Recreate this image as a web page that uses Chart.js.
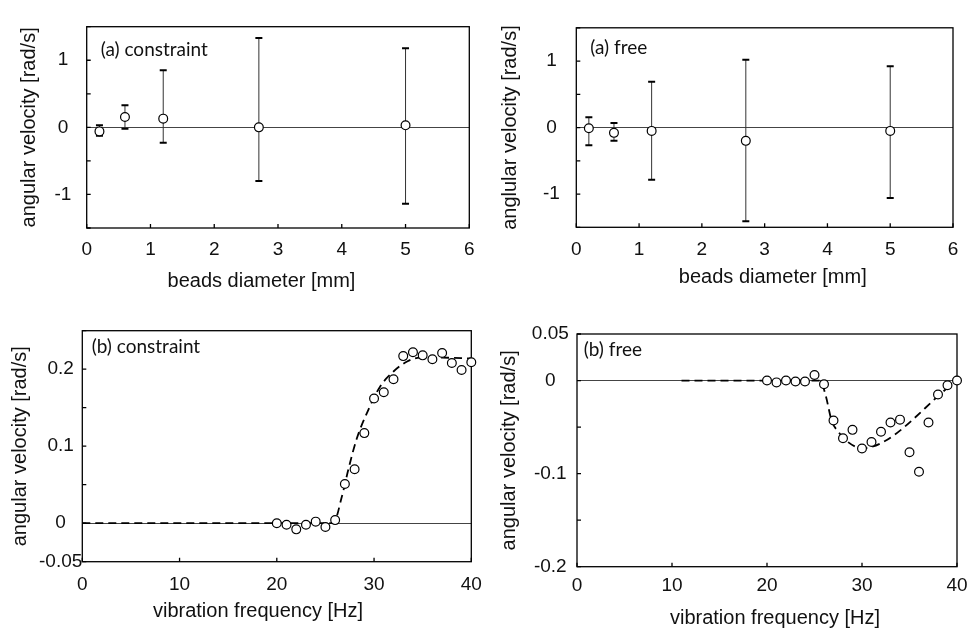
<!DOCTYPE html>
<html>
<head>
<meta charset="utf-8">
<script src="https://cdn.jsdelivr.net/npm/chart.js@4.4.1/dist/chart.umd.min.js"></script>
<style>
  body { margin: 0; background: #fff; }
  #wrap { position: relative; width: 974px; height: 633px; }
  canvas { position: absolute; }
</style>
</head>
<body>
<div id="wrap">
  <canvas id="c1" width="487" height="305" style="left:0;top:0"></canvas>
  <canvas id="c2" width="487" height="305" style="left:487px;top:0"></canvas>
  <canvas id="c3" width="487" height="323" style="left:0;top:310px"></canvas>
  <canvas id="c4" width="487" height="323" style="left:487px;top:310px"></canvas>
</div>
<script>
// (a) beads diameter sweep, mean with min/max bars
let beadSize = [0.2, 0.6, 1.2, 2.7, 5];
let conMean = [-0.06, 0.155, 0.13, 0.0, 0.03];
let conHigh = [0.03, 0.33, 0.85, 1.33, 1.18];
let conLow = [-0.125, -0.02, -0.23, -0.8, -1.14];
let freeMean = [-0.01, -0.08, -0.05, -0.2, -0.05];
let freeHigh = [0.155, 0.07, 0.69, 1.02, 0.92];
let freeLow = [-0.265, -0.2, -0.785, -1.41, -1.06];

// (b) vibration frequency sweep
let freq = [20, 21, 22, 23, 24, 25, 26, 27, 28, 29, 30, 31, 32, 33, 34, 35, 36, 37, 38, 39, 40];
let conVel = [0, -0.002, -0.008, -0.002, 0.002, -0.005, 0.004, 0.051, 0.07, 0.117, 0.162,
  0.17, 0.187, 0.217, 0.222, 0.218, 0.213, 0.221, 0.208, 0.199, 0.209];
let freeVel = [0, -0.002, 0, -0.001, -0.001, 0.006, -0.004, -0.043, -0.062, -0.053, -0.073,
  -0.066, -0.055, -0.045, -0.042, -0.077, -0.098, -0.045, -0.015, -0.005, 0];

// dashed guide curves
let conFitX = [0, 25.8, 26.7, 27.4, 28.2, 29.3, 30.6, 32, 33.4, 34.7, 37, 40];
let conFitY = [0, 0, 0.035, 0.072, 0.109, 0.144, 0.177, 0.197, 0.21, 0.215, 0.215, 0.214];
let freeFitX = [11, 25.6, 26.2, 26.8, 27.5, 28.4, 29.3, 29.9, 40];
let freeFitY = [0, 0, -0.017, -0.043, -0.055, -0.065, -0.071, -0.073, 0];

// tick labels that are printed
let yLabelsA = [-1, 0, 1];
let yLabelsCon = [-0.05, 0, 0.1, 0.2];
let yLabelsFree = [-0.2, -0.1, 0, 0.05];

const FONT = "'Liberation Sans', Arial, sans-serif";
Chart.defaults.color = "#111";
Chart.defaults.font.family = FONT;

function pts(xs, ys) {
  return xs.map((x, i) => ({ x: x, y: ys[i] }));
}

function markers(xs, ys, low, high) {
  return {
    data: pts(xs, ys),
    errLow: low,
    errHigh: high,
    pointRadius: 4.4,
    pointBackgroundColor: "#fff",
    pointBorderColor: "#000",
    pointBorderWidth: 1.2,
    clip: false,
  };
}

function guide(xs, ys) {
  return {
    data: pts(xs, ys),
    showLine: true,
    pointRadius: 0,
    borderColor: "#000",
    borderWidth: 1.8,
    borderDash: [8, 5],
    cubicInterpolationMode: "monotone",
    order: 1,
  };
}

// frame, inward ticks, error bars, panel tag and x title
const panelDeco = {
  id: "panelDeco",
  beforeDatasetsDraw(chart, args, opts) {
    const { ctx, chartArea: a, scales: { x, y } } = chart;
    ctx.save();
    ctx.strokeStyle = "#000";
    ctx.lineWidth = 1.3;
    ctx.strokeRect(a.left, a.top, a.right - a.left, a.bottom - a.top);
    ctx.beginPath();
    x.ticks.forEach((t) => {
      let px = x.getPixelForValue(t.value);
      ctx.moveTo(px, a.bottom);
      ctx.lineTo(px, a.bottom - 4);
    });
    y.ticks.forEach((t) => {
      let py = y.getPixelForValue(t.value);
      ctx.moveTo(a.left, py);
      ctx.lineTo(a.left + 4, py);
    });
    ctx.stroke();

    chart.data.datasets.forEach((ds) => {
      if (!ds.errLow) return;
      ds.data.forEach((p, i) => {
        let px = x.getPixelForValue(p.x);
        let top = y.getPixelForValue(ds.errHigh[i]);
        let bot = y.getPixelForValue(ds.errLow[i]);
        ctx.strokeStyle = "#333";
        ctx.lineWidth = 1;
        ctx.beginPath();
        ctx.moveTo(px, top);
        ctx.lineTo(px, bot);
        ctx.stroke();
        ctx.strokeStyle = "#000";
        ctx.lineWidth = 2;
        ctx.beginPath();
        ctx.moveTo(px - 3.5, top);
        ctx.lineTo(px + 3.5, top);
        ctx.moveTo(px - 3.5, bot);
        ctx.lineTo(px + 3.5, bot);
        ctx.stroke();
      });
    });
    ctx.restore();
  },
  afterDraw(chart, args, opts) {
    const { ctx, chartArea: a } = chart;
    ctx.save();
    ctx.fillStyle = "#111";
    ctx.textBaseline = "middle";
    ctx.textAlign = "left";
    ctx.font = "19px Lato, 'Open Sans', sans-serif";
    ctx.fillText(opts.tag, a.left + opts.tagDx, a.top + opts.tagDy);
    ctx.textAlign = "center";
    ctx.font = "20px " + FONT;
    ctx.fillText(opts.xTitle, opts.xTitleX, opts.xTitleY);
    ctx.restore();
  },
};

function panel(id, p) {
  return new Chart(document.getElementById(id), {
    type: "scatter",
    data: { datasets: p.datasets },
    plugins: [panelDeco],
    options: {
      responsive: false,
      animation: false,
      layout: { padding: { left: 0, right: p.padRight, top: p.padTop, bottom: 0 } },
      plugins: {
        legend: { display: false },
        tooltip: { enabled: false },
        panelDeco: {
          tag: p.tag, tagDx: p.tagDx, tagDy: p.tagDy,
          xTitle: p.xTitle, xTitleX: p.xTitleX, xTitleY: p.xTitleY,
        },
      },
      scales: {
        x: {
          min: p.xMin, max: p.xMax,
          grid: { display: false },
          border: { display: false },
          ticks: { stepSize: p.xStep, autoSkip: false, maxRotation: 0, padding: p.xTickPad, font: { size: 19 } },
          afterFit: (s) => { s.height = p.xHeight; },
        },
        y: {
          min: p.yMin, max: p.yMax,
          border: { display: false },
          grid: {
            drawTicks: false,
            color: (c) => (c.tick && Math.abs(c.tick.value) < 1e-9 ? "#444" : "rgba(0,0,0,0)"),
            lineWidth: 1,
          },
          ticks: {
            stepSize: p.yStep,
            autoSkip: false,
            crossAlign: "center",
            padding: p.yTickPad,
            font: { size: 19 },
            callback: (v) => {
              let hit = p.yShown.find((s) => Math.abs(s - v) < 1e-9);
              return hit === undefined ? "" : String(hit);
            },
          },
          title: {
            display: true,
            text: p.yTitle,
            font: { size: 20 },
            padding: { top: p.yTitlePad, bottom: 0 },
          },
          afterFit: (s) => { s.width = p.yWidth; },
        },
      },
    },
  });
}

panel("c1", {
  datasets: [markers(beadSize, conMean, conLow, conHigh)],
  xMin: 0, xMax: 6, xStep: 1, yMin: -1.5, yMax: 1.5, yStep: 0.5, yShown: yLabelsA,
  yTitle: "angular velocity [rad/s]",
  padRight: 17.7, padTop: 7.3, yWidth: 86.7, xHeight: 77,
  yTickPad: 15.3, yTitlePad: 17.2, xTickPad: 2.6,
  tag: "(a) constraint", tagDx: 14, tagDy: 22.7,
  xTitle: "beads diameter [mm]", xTitleX: 261.5, xTitleY: 281,
});

panel("c2", {
  datasets: [markers(beadSize, freeMean, freeLow, freeHigh)],
  xMin: 0, xMax: 6, xStep: 1, yMin: -1.5, yMax: 1.5, yStep: 0.5, yShown: yLabelsA,
  yTitle: "anglular velocity [rad/s]",
  padRight: 21, padTop: 10, yWidth: 89.3, xHeight: 77.7,
  yTickPad: 16.4, yTitlePad: 11.3, xTickPad: 3.3,
  tag: "(a) free", tagDx: 14, tagDy: 20,
  xTitle: "beads diameter [mm]", xTitleX: 285.8, xTitleY: 277,
});

panel("c3", {
  datasets: [markers(freq, conVel), guide(conFitX, conFitY)],
  xMin: 0, xMax: 40, xStep: 10, yMin: -0.05, yMax: 0.25, yStep: 0.05, yShown: yLabelsCon,
  yTitle: "angular velocity [rad/s]",
  padRight: 15.7, padTop: 20.7, yWidth: 82.3, xHeight: 71.3,
  yTickPad: 0, yTitlePad: 8.8, xTickPad: 3.6,
  tag: "(b) constraint", tagDx: 9.4, tagDy: 16,
  xTitle: "vibration frequency [Hz]", xTitleX: 258, xTitleY: 301.7,
});

panel("c4", {
  datasets: [markers(freq, freeVel), guide(freeFitX, freeFitY)],
  xMin: 0, xMax: 40, xStep: 10, yMin: -0.2, yMax: 0.05, yStep: 0.05, yShown: yLabelsFree,
  yTitle: "angular velocity [rad/s]",
  padRight: 17, padTop: 24, yWidth: 90, xHeight: 66.3,
  yTickPad: 8.2, yTitlePad: 10.5, xTickPad: 0,
  tag: "(b) free", tagDx: 6.7, tagDy: 16,
  xTitle: "vibration frequency [Hz]", xTitleX: 288, xTitleY: 308,
});
</script>
</body>
</html>
